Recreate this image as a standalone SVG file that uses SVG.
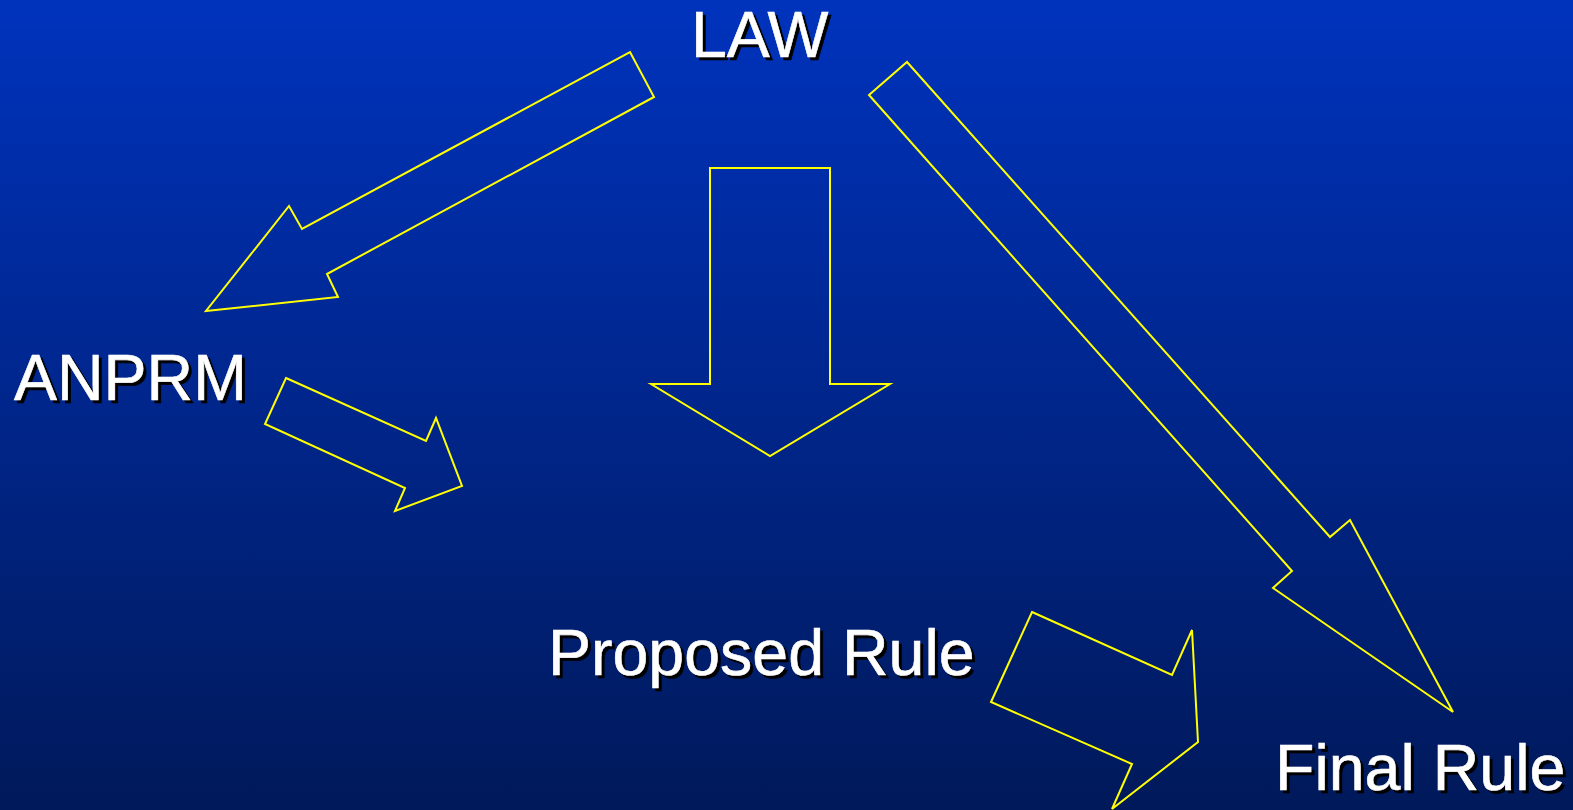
<svg xmlns="http://www.w3.org/2000/svg" width="1573" height="810" viewBox="0 0 1573 810">
<defs>
<linearGradient id="bg" x1="0" y1="0" x2="0" y2="1">
<stop offset="0" stop-color="#0033bd"/>
<stop offset="1" stop-color="#00195a"/>
</linearGradient>
</defs>
<style>
.arrow{fill:none;stroke:#ffff00;stroke-width:2;stroke-linejoin:miter}
.lbl{font-family:"Liberation Sans",Arial,sans-serif;font-size:64.5px;fill:#ffffff;stroke:#ffffff;stroke-width:0.6}
.sh{font-family:"Liberation Sans",Arial,sans-serif;font-size:64.5px;fill:#000000;stroke:#000000;stroke-width:0.6}
</style>
<rect x="0" y="0" width="1573" height="810" fill="url(#bg)"/>
<g id="connectors">
<polygon class="arrow" points="630,52 654,97 327,274 338,297 206,311 289,206 302,229"/>
<polygon class="arrow" points="710,168 830,168 830,384 890,384 770,456 651,384 710,384"/>
<polygon class="arrow" points="869,95 907,62 1330,537 1350,520 1453,712 1273,588 1292,571"/>
<polygon class="arrow" points="286,378 426,441 436,418 462,486 395,511 405,488 265,424"/>
<polygon class="arrow" points="1032,612 1172,675 1192,630 1198,742 1112,809 1132,764 991,702"/>
</g>
<g id="law">
<text class="sh" x="694" y="60">LAW</text>
<text class="lbl" x="691" y="57">LAW</text>
</g>
<g id="anprm">
<text class="sh" x="17" y="403">ANPRM</text>
<text class="lbl" x="14" y="400">ANPRM</text>
</g>
<g id="proposed">
<text class="sh" x="551" y="678">Proposed Rule</text>
<text class="lbl" x="548" y="675">Proposed Rule</text>
</g>
<g id="final">
<text class="sh" x="1278" y="793">Final Rule</text>
<text class="lbl" x="1275" y="790">Final Rule</text>
</g>
</svg>
